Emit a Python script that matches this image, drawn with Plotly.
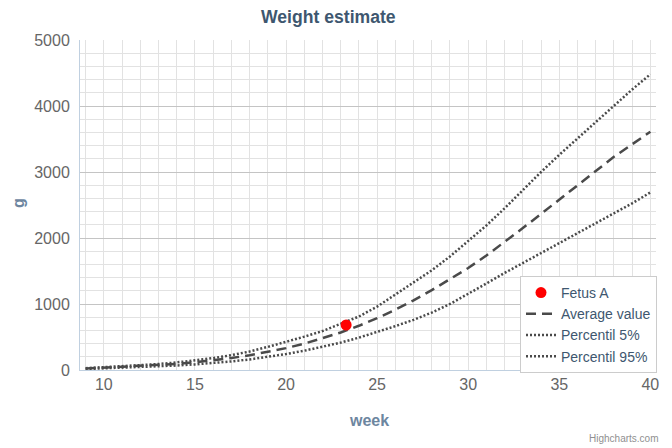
import plotly.graph_objects as go

weeks = list(range(9, 41))
average_value = [22, 35, 45, 58, 73, 93, 117, 146, 181, 223, 273, 331, 399, 478, 568, 670,
                 785, 913, 1055, 1210, 1379, 1545, 1735, 1940, 2150, 2365, 2580, 2800, 3020, 3230, 3420, 3610]
percentil_5 = [15, 25, 33, 42, 54, 68, 85, 105, 130, 160, 198, 242, 292, 350, 415, 490,
               575, 665, 760, 870, 1000, 1150, 1310, 1470, 1620, 1770, 1920, 2070, 2220, 2370, 2525, 2690]
percentil_95 = [28, 42, 55, 70, 90, 115, 145, 180, 225, 280, 350, 425, 505, 590, 695, 810,
                960, 1140, 1320, 1510, 1720, 1950, 2190, 2450, 2730, 3000, 3260, 3510, 3760, 4000, 4250, 4480]
fetus_week = [23.3]
fetus_weight = [682]

LINE = "#4a4a4a"
fig = go.Figure()
fig.add_trace(go.Scatter(x=weeks, y=average_value, mode="lines", name="Average value",
                         line=dict(color=LINE, width=2.5, dash="10px,6px"), legendrank=2))
fig.add_trace(go.Scatter(x=weeks, y=percentil_5, mode="lines", name="Percentil 5%",
                         line=dict(color=LINE, width=2.5, dash="2px,2px"), legendrank=3))
fig.add_trace(go.Scatter(x=weeks, y=percentil_95, mode="lines", name="Percentil 95%",
                         line=dict(color=LINE, width=2.5, dash="2px,2px"), legendrank=4))
fig.add_trace(go.Scatter(x=fetus_week, y=fetus_weight, mode="markers", name="Fetus A",
                         marker=dict(color="#ff0000", size=11), legendrank=1))

# page body has an 8px margin, so the figure is 8px smaller and all
# screen positions below are shifted by 8px
OFF = 8
W, H = 672 - OFF, 448 - OFF
L, T = 80 - OFF, 40 - OFF
pw, ph = 576, 330
R, B = W - L - pw, H - T - ph


def px(x, y):
    return (x - OFF - L) / pw, (T + ph - (y - OFF)) / ph


def ann(text, x, y, xanchor="center", **kw):
    ax, ay = px(x, y)
    return dict(text=text, x=ax, y=ay, xref="paper", yref="paper", showarrow=False,
                xanchor=xanchor, yanchor="middle", **kw)


lx, ly = px(520, 276)
fig.update_layout(
    width=W, height=H,
    margin=dict(l=L, r=R, t=T, b=B, autoexpand=False),
    paper_bgcolor="white", plot_bgcolor="white",
    font=dict(family="Liberation Sans, Arial, sans-serif"),
    showlegend=True,
    legend=dict(x=lx, y=ly, xanchor="left", yanchor="top",
                bgcolor="white", bordercolor="#cccccc", borderwidth=1,
                font=dict(size=14, color="#3E576F"), tracegroupgap=0, itemwidth=30),
    xaxis=dict(range=[8.69, 40.31], tick0=10, dtick=5, showgrid=True, gridcolor="#e2e2e2",
               minor=dict(dtick=1, tick0=9, showgrid=True, gridcolor="#e2e2e2"),
               showline=True, linecolor="#C0D0E0", linewidth=1, zeroline=False,
               tickfont=dict(size=16, color="#666666"), ticks="", automargin=False),
    yaxis=dict(range=[0, 5000], dtick=1000, showgrid=True, gridcolor="#c4c4c4",
               minor=dict(dtick=200, showgrid=True, gridcolor="#e2e2e2"),
               showline=True, linecolor="#C0D0E0", linewidth=1, zeroline=False,
               tickfont=dict(size=16, color="#666666"), ticks="", ticklabelstandoff=6,
               automargin=False),
    annotations=[
        ann("<b>Weight estimate</b>", 328, 17, font=dict(size=17.6, color="#3E576F")),
        ann("<b>g</b>", 18, 203, textangle=-90, font=dict(size=16, color="#6D869F")),
        ann("<b>week</b>", 369, 420, font=dict(size=16, color="#6D869F")),
        ann("Highcharts.com", 660, 438, xanchor="right", font=dict(size=10, color="#909090")),
    ],
)

fig.write_html("out.html")
